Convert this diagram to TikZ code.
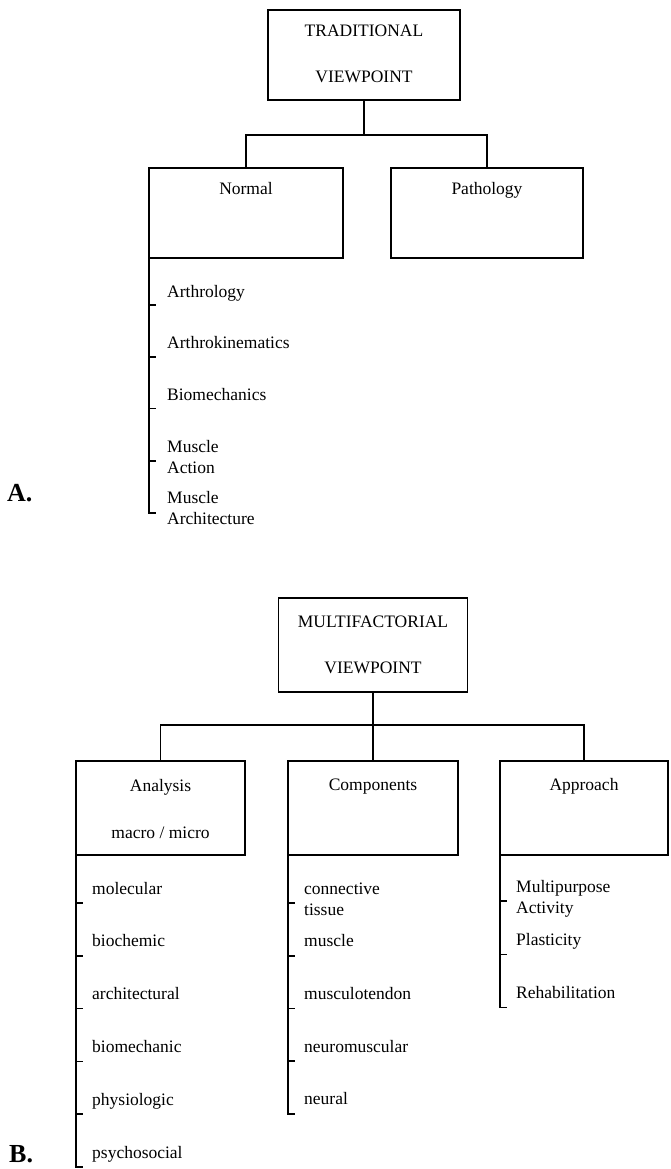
\documentclass[tikz,border=0pt]{standalone}
\usepackage{fontspec}
\setmainfont{Liberation Serif}
\usetikzlibrary{positioning,calc}

\begin{document}
\begin{tikzpicture}[
    x=1pt, y=-1pt,
    every node/.style={font=\fontsize{17.5}{21}\selectfont, inner sep=0pt},
    box/.style={rectangle, draw, line width=1.8pt, outer sep=0pt, minimum width=192pt, minimum height=90pt},
    subbox/.style={box, minimum width=170pt, minimum height=94pt},
    link/.style={line width=1.8pt},
    bar/.style={line width=1.6pt},
    title/.style={anchor=base},
    item/.style={anchor=base west, align=left},
    next/.style={below=#1, anchor=base west, align=left},
    part/.style={anchor=base west, font=\fontsize{26}{30}\selectfont\bfseries}
  ]
  \useasboundingbox (0,0) rectangle (670,1169);

  % A. traditional view
  \node[box] (trad) at (364,55) {};
  \node[title] (tradA) at ([yshift=-27pt]trad.north) {TRADITIONAL};
  \node[title] (tradB) at ([yshift=-73pt]trad.north) {VIEWPOINT};

  \node[box, minimum width=194pt] (nrm) at (246,213) {};
  \node[box] (path) at (487,213) {};
  \node[title] (nrmtxt) at ([yshift=-27pt]nrm.north) {Normal};
  \node[title] (pathtxt) at ([yshift=-27pt]path.north) {Pathology};

  \coordinate (tradjoin) at ($(trad.south)+(0,35)$);
  \draw[link] (trad.south) -- (tradjoin);
  \draw[link] (nrm.north) |- (tradjoin) -| (path.north);

  % two-line items sit on their last line, ticks go under the first one
  \node[item] (arthro) at ([xshift=18pt,yshift=-39pt]nrm.south west) {Arthrology};
  \node[next=51.7pt of arthro.base west] (kinem) {Arthrokinematics};
  \node[next=51.7pt of kinem.base west] (biomech) {Biomechanics};
  \node[next=72.7pt of biomech.base west] (action) {Muscle\\Action};
  \node[next=51.7pt of action.base west] (archi) {Muscle\\Architecture};

  \draw[bar] (nrm.south west) -- ($(nrm.west |- archi.base)+(0,-12)$) -- ++(7,0);
  \draw[bar] ($(nrm.west |- arthro.base)+(0,8)$) -- ++(7,0);
  \draw[bar] ($(nrm.west |- kinem.base)+(0,8)$) -- ++(7,0);
  \draw[bar] ($(nrm.west |- biomech.base)+(0,8)$) -- ++(7,0);
  \draw[bar] ($(nrm.west |- action.base)+(0,-12)$) -- ++(7,0);

  \node[part] (labA) at (7,501) {A.};

  % B. multifactorial view
  \node[box, minimum width=189pt, minimum height=94pt] (multi) at (373,645) {};
  \node[title] (multiA) at ([yshift=-29pt]multi.north) {MULTIFACTORIAL};
  \node[title] (multiB) at ([yshift=-75pt]multi.north) {VIEWPOINT};

  \node[subbox, minimum width=169pt] (anal) at (160.5,808) {};
  \node[subbox] (comp) at (373,808) {};
  \node[subbox, minimum width=168pt] (appr) at (584,808) {};
  \node[title] (analtxt) at ([yshift=-30pt]anal.north) {Analysis};
  \node[title] (scale) at ([yshift=-77pt]anal.north) {macro / micro};
  \node[title] (comptxt) at ([yshift=-29pt]comp.north) {Components};
  \node[title] (apprtxt) at ([yshift=-29pt]appr.north) {Approach};

  \coordinate (multijoin) at ($(multi.south)+(0,33)$);
  \draw[link] (multi.south) -- (comp.north);
  \draw[link] (anal.north) |- (multijoin) -| (appr.north);

  % analysis levels
  \node[item] (molec) at ([xshift=16pt,yshift=-39pt]anal.south west) {molecular};
  \node[next=52.8pt of molec.base west] (biochem) {biochemic};
  \node[next=52.8pt of biochem.base west] (archit) {architectural};
  \node[next=52.8pt of archit.base west] (biomec) {biomechanic};
  \node[next=52.8pt of biomec.base west] (physio) {physiologic};
  \node[next=52.8pt of physio.base west] (psycho) {psychosocial};

  \draw[bar] (anal.south west) -- ($(anal.west |- psycho.base)+(0,9)$) -- ++(7,0);
  \draw[bar] ($(anal.west |- molec.base)+(0,9)$) -- ++(7,0);
  \draw[bar] ($(anal.west |- biochem.base)+(0,9)$) -- ++(7,0);
  \draw[bar] ($(anal.west |- archit.base)+(0,9)$) -- ++(7,0);
  \draw[bar] ($(anal.west |- biomec.base)+(0,9)$) -- ++(7,0);
  \draw[bar] ($(anal.west |- physio.base)+(0,9)$) -- ++(7,0);

  % components
  \node[item] (connect) at ([xshift=16pt,yshift=-60pt]comp.south west) {connective\\tissue};
  \node[next=31.7pt of connect.base west] (muscle) {muscle};
  \node[next=52.7pt of muscle.base west] (tendon) {musculotendon};
  \node[next=52.7pt of tendon.base west] (neuromus) {neuromuscular};
  \node[next=52.7pt of neuromus.base west] (neural) {neural};

  \draw[bar] (comp.south west) -- ($(comp.west |- neural.base)+(0,9)$) -- ++(7,0);
  \draw[bar] ($(comp.west |- connect.base)+(0,-12)$) -- ++(7,0);
  \draw[bar] ($(comp.west |- muscle.base)+(0,9)$) -- ++(7,0);
  \draw[bar] ($(comp.west |- tendon.base)+(0,9)$) -- ++(7,0);
  \draw[bar] ($(comp.west |- neuromus.base)+(0,9)$) -- ++(7,0);

  % approach
  \node[item] (multip) at ([xshift=16pt,yshift=-58pt]appr.south west) {Multipurpose\\Activity};
  \node[next=32.3pt of multip.base west] (plast) {Plasticity};
  \node[next=53.3pt of plast.base west] (rehab) {Rehabilitation};

  \draw[bar] (appr.south west) -- ($(appr.west |- rehab.base)+(0,9)$) -- ++(7,0);
  \draw[bar] ($(appr.west |- multip.base)+(0,-12)$) -- ++(7,0);
  \draw[bar] ($(appr.west |- plast.base)+(0,9)$) -- ++(7,0);

  \node[part] (labB) at (9,1162) {B.};
\end{tikzpicture}
\end{document}
